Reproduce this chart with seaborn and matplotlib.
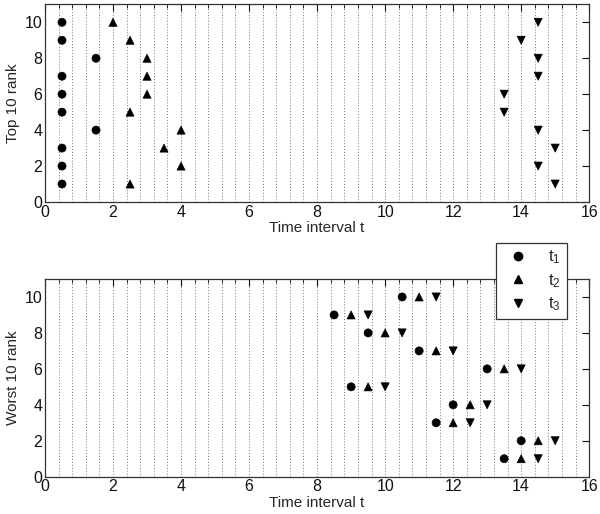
import numpy as np
import pandas as pd
import seaborn as sns
import matplotlib.pyplot as plt
from matplotlib.ticker import MultipleLocator

# top 10 panel
top_t1_x = [0.5, 0.5, 0.5, 0.5, 0.5, 0.5, 0.5, 0.5, 1.5, 1.5]
top_t1_y = [1, 2, 3, 5, 6, 7, 9, 10, 4, 8]
top_t2_x = [2.0, 2.5, 3.0, 3.0, 3.0, 2.5, 4.0, 3.5, 4.0, 2.5]
top_t2_y = [10, 9, 8, 7, 6, 5, 4, 3, 2, 1]
top_t3_x = [14.5, 14.0, 14.5, 14.5, 13.5, 13.5, 14.5, 15.0, 14.5, 15.0]
top_t3_y = [10, 9, 8, 7, 6, 5, 4, 3, 2, 1]

# worst 10 panel
worst_rank = [10, 9, 8, 7, 6, 5, 4, 3, 2, 1]
worst_t1_x = [10.5, 8.5, 9.5, 11.0, 13.0, 9.0, 12.0, 11.5, 14.0, 13.5]
worst_t2_x = [11.0, 9.0, 10.0, 11.5, 13.5, 9.5, 12.5, 12.0, 14.5, 14.0]
worst_t3_x = [11.5, 9.5, 10.5, 12.0, 14.0, 10.0, 13.0, 12.5, 15.0, 14.5]

series_names = ['t1', 't2', 't3']
series_labels = ['t$_1$', 't$_2$', 't$_3$']
markers = {'t1': 'o', 't2': '^', 't3': 'v'}


def to_frame(xs, ys):
    rows = []
    for name, x, y in zip(series_names, xs, ys):
        rows.append(pd.DataFrame({'t': x, 'rank': y, 'series': name}))
    return pd.concat(rows, ignore_index=True)


top_df = to_frame([top_t1_x, top_t2_x, top_t3_x], [top_t1_y, top_t2_y, top_t3_y])
worst_df = to_frame([worst_t1_x, worst_t2_x, worst_t3_x], [worst_rank] * 3)

sns.set_style('white')
plt.rcParams['font.family'] = ['Liberation Sans', 'DejaVu Sans']
plt.rcParams['mathtext.fontset'] = 'custom'
plt.rcParams['mathtext.rm'] = 'Liberation Sans'
plt.rcParams['mathtext.it'] = 'Liberation Sans'

fig = plt.figure(figsize=(6, 5.14), dpi=100)
ax1 = fig.add_axes([0.075, 0.607, 0.907, 0.3846])
ax2 = fig.add_axes([0.075, 0.0726, 0.907, 0.3846])

for ax, df, ylabel in [(ax1, top_df, 'Top 10 rank'), (ax2, worst_df, 'Worst 10 rank')]:
    sns.scatterplot(data=df, x='t', y='rank', style='series', markers=markers,
                    color='black', edgecolor='black', s=34, ax=ax, legend=False, zorder=3)
    ax.set_xlim(0, 16)
    ax.set_ylim(0, 11)
    ax.xaxis.set_major_locator(MultipleLocator(2))
    ax.xaxis.set_minor_locator(MultipleLocator(0.4))
    ax.yaxis.set_major_locator(MultipleLocator(2))
    ax.grid(True, which='both', axis='x', linestyle=(0, (1, 2)), color='#777777', linewidth=0.7)
    ax.grid(False, axis='y')
    ax.tick_params(which='both', direction='in', top=True, right=True,
                   labelsize=11.5, pad=2, colors='#111111')
    ax.tick_params(which='major', length=5, width=0.8)
    ax.tick_params(which='minor', length=3, width=0.6)
    for sp in ax.spines.values():
        sp.set_color('#333333')
        sp.set_linewidth(0.9)
    ax.set_xlabel('Time interval t', fontsize=11, labelpad=1)
    ax.set_ylabel(ylabel, fontsize=11, labelpad=3)

handles = [plt.Line2D([], [], marker=markers[n], linestyle='none', color='black',
                      markersize=6) for n in series_names]
leg = ax2.legend(handles, series_labels, loc='upper right', bbox_to_anchor=(0.959, 1.184),
                 frameon=True, fancybox=False, framealpha=1, edgecolor='#333333',
                 fontsize=12, handlelength=2.0, labelspacing=0.35,
                 borderpad=0.35, handletextpad=0.8, borderaxespad=0)
leg.get_frame().set_linewidth(0.9)
leg.set_zorder(10)

fig.savefig('out.png', dpi=100)
